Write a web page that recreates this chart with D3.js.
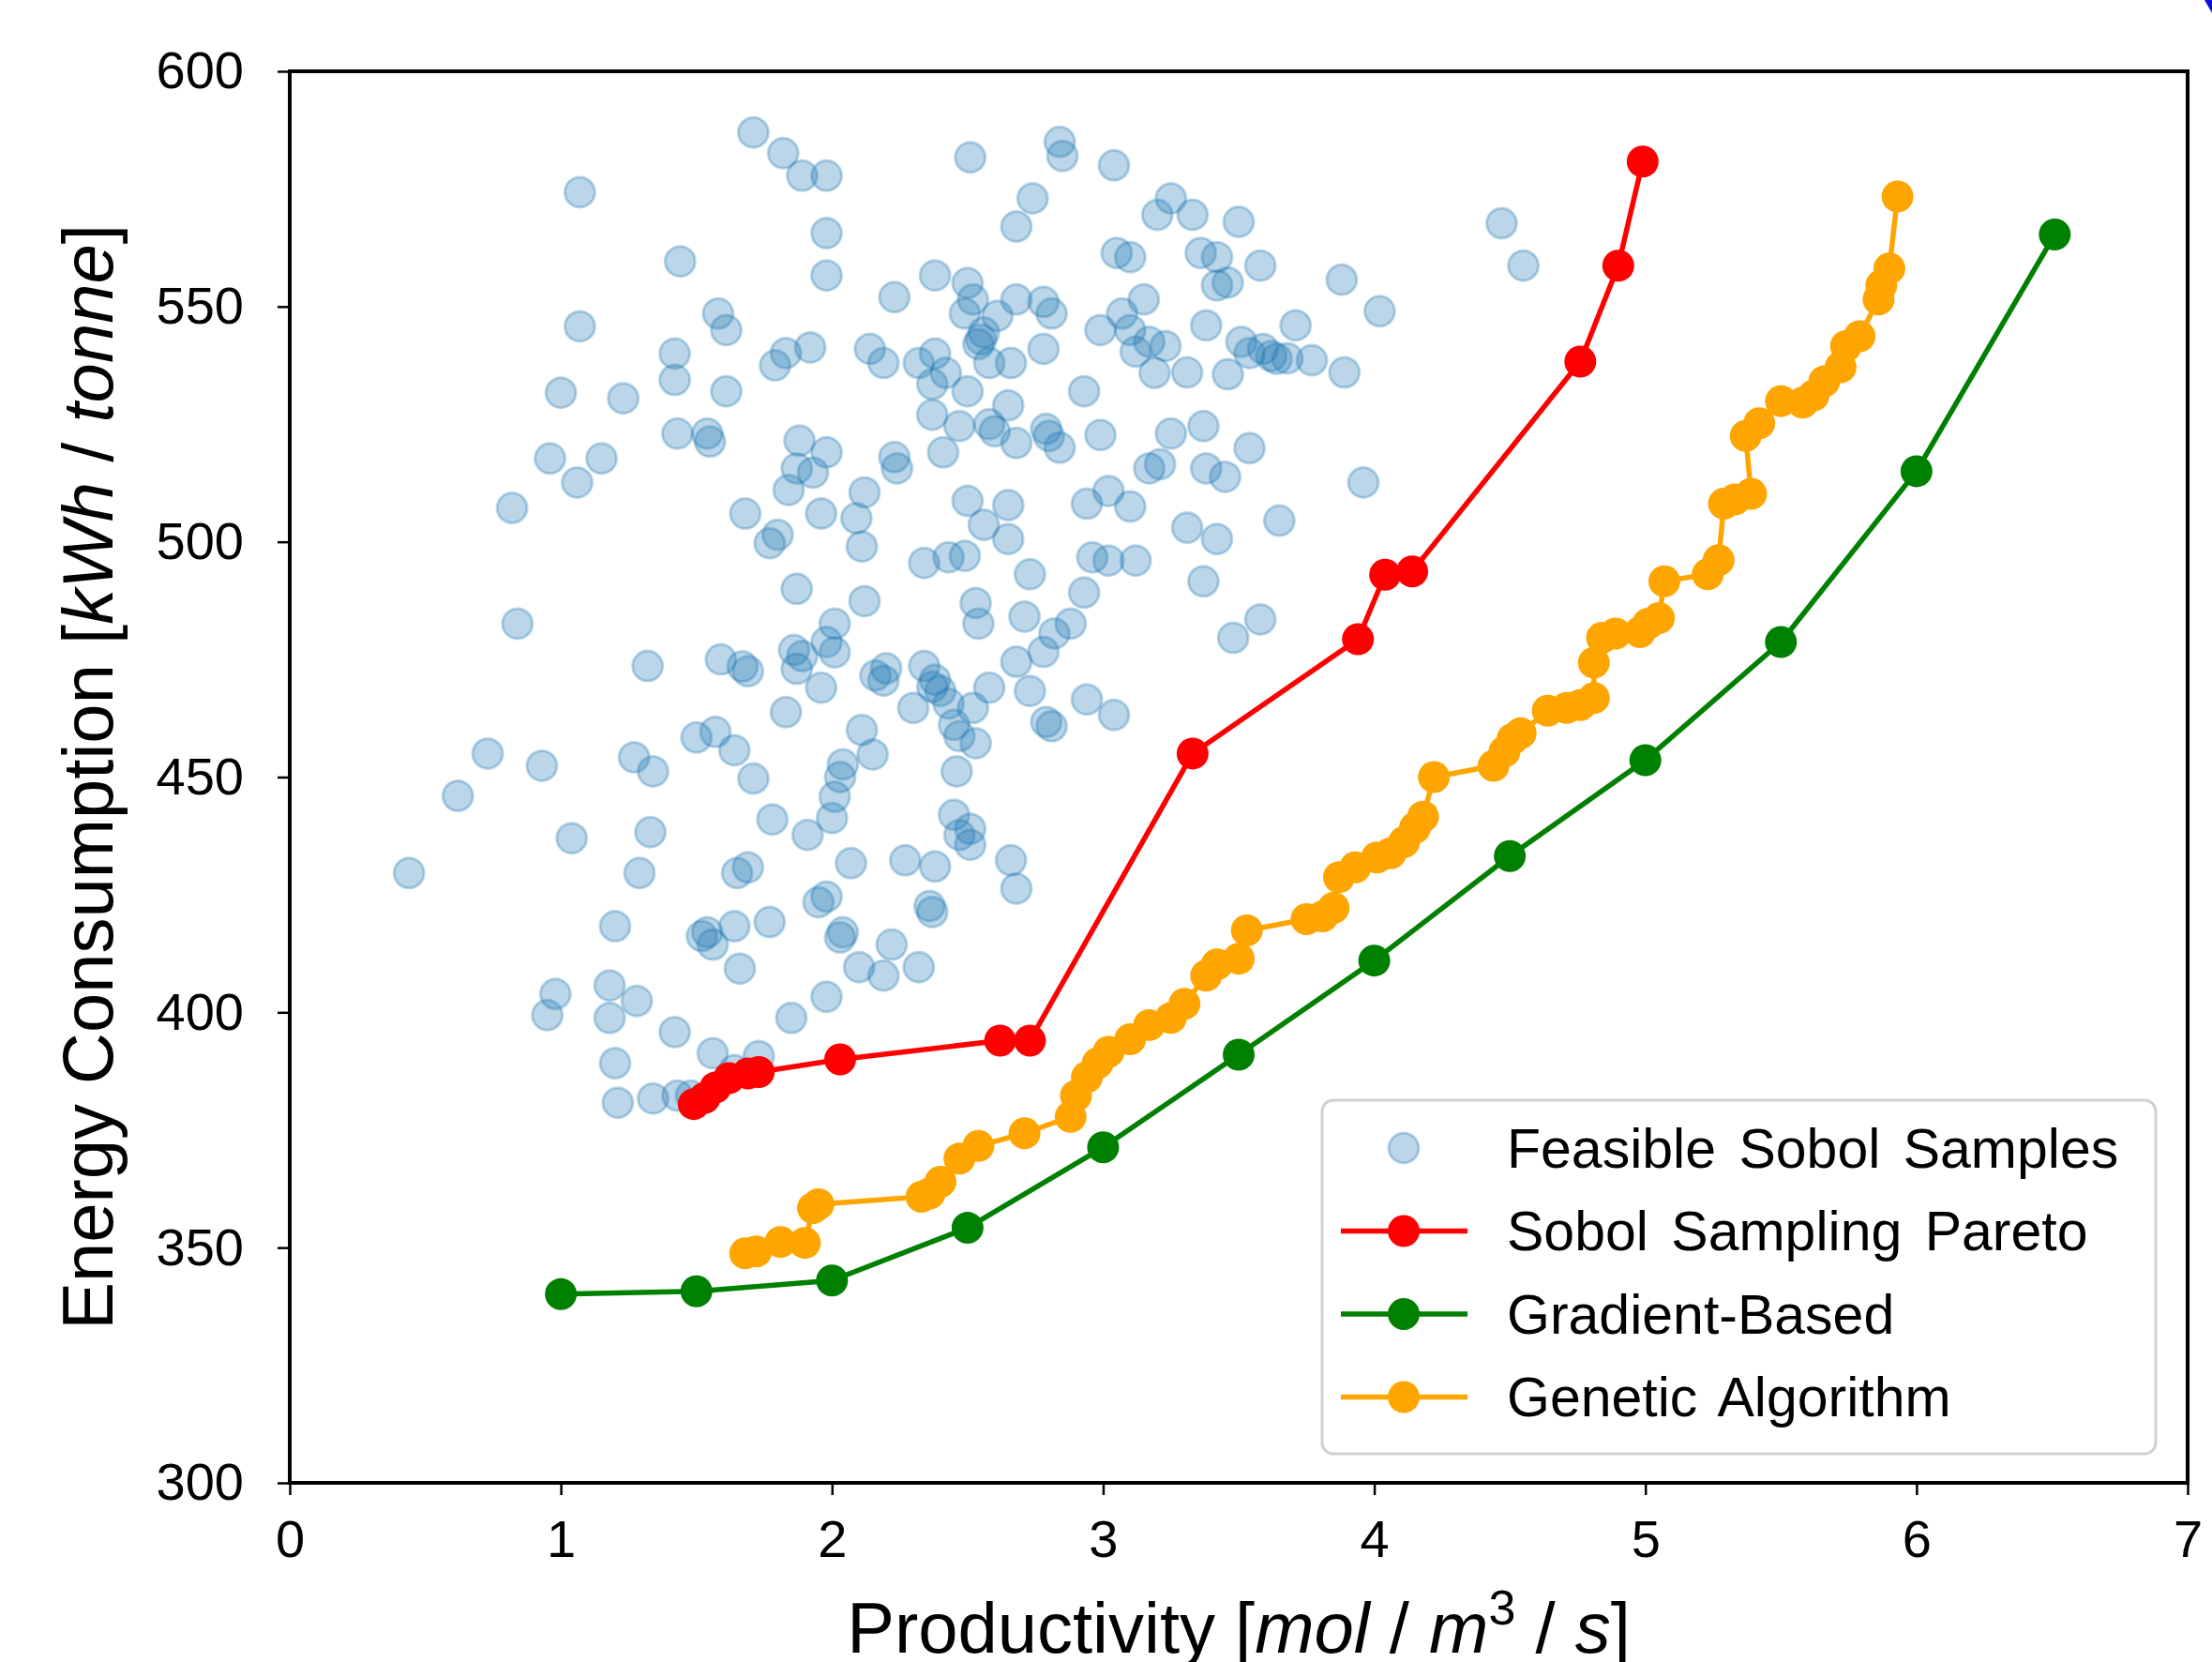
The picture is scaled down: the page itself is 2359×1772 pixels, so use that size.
<!DOCTYPE html>
<html>
<head>
<meta charset="utf-8">
<script src="https://cdn.jsdelivr.net/npm/d3@7"></script>
<style>
  body { margin: 0; background: #fff; }
  text { font-family: "Liberation Sans", Arial, Helvetica, sans-serif; fill: #000; }
</style>
</head>
<body>
<svg id="chart" width="2359" height="1772"></svg>
<script>
// feasible sobol samples [productivity, energy]
const sobolSamples = [
  [1.71,587],[1.82,582.6],[1.89,577.8],[1.98,577.8],[2.51,581.7],[2.84,585],[2.85,582],[3.04,580],
  [1.07,574.3],[1.98,565.6],[1.98,556.6],[1.44,559.6],[2.74,573],[2.68,567],[3.25,573],[3.20,569.5],
  [3.33,569.5],[3.50,568],[3.05,561.4],[3.10,560.5],[3.36,561.4],[3.42,560.5],[3.58,558.7],[3.42,554.5],
  [3.46,555.1],[3.88,555.7],[4.47,567.7],[4.55,558.7],[4.02,549],[3.71,546],[3.59,541],[3.54,540.1],
  [3.64,538.9],[3.38,546],[3.23,541.6],[3.15,551.5],[3.07,548.5],[3.10,545],[3.17,542.5],[2.99,545],
  [2.78,551],[2.81,548.5],[2.68,551.5],[2.50,555],[2.52,551.5],[2.38,556.6],[2.23,552],[2.55,543],
  [2.56,544.5],[2.54,542],[2.61,548],[2.49,548.5],[2.78,541],[2.93,532],[2.66,538],[2.58,538],
  [2.38,540],[2.32,538],[2.42,535.9],[2.37,533.5],[2.50,532],[2.58,525],[2.60,523.5],[2.65,529],
  [2.68,521],[2.79,524],[2.80,522.5],[2.84,520],[2.47,524.6],[2.37,527],[2.41,519],[2.23,518],
  [2.24,515.6],[2.14,541],[2.19,538],[1.79,537.5],[1.83,540.1],[1.92,541.3],[1.61,532],[1.58,548.5],
  [1.61,545],[1.42,534.4],[1.42,540],[1.23,530.5],[1.0,531.7],[1.07,545.8],[1.43,523],[1.54,523],
  [1.55,521.3],[0.96,517.7],[1.15,517.7],[1.06,512.6],[0.82,507.2],[1.88,521.5],[1.87,515.6],[1.93,514.7],
  [1.98,519],[1.84,511],[2.12,510.5],[2.09,505],[1.96,506],[1.68,506],[1.80,501.5],[1.77,499.7],
  [2.11,499],[2.12,487.4],[1.87,490],[2.01,482.6],[1.98,478.7],[1.86,477],[1.89,475.7],[2.01,476.5],
  [1.87,473],[1.96,469],[1.59,475],[1.67,473.5],[1.69,472.5],[1.32,473.6],[0.84,482.6],[0.73,455],
  [0.62,446],[0.93,452.4],[0.44,429.6],[1.27,454.2],[1.34,451.2],[1.33,438.3],[1.29,429.6],[1.04,437],
  [1.50,458.4],[1.57,459.6],[1.64,455.7],[1.71,449.7],[1.83,463.8],[1.78,441],[1.91,437.7],[2.0,441.3],
  [2.01,445.8],[2.04,452.7],[2.03,450],[2.15,454.8],[2.11,460],[2.07,431.7],[1.65,429.6],[1.69,430.8],
  [1.98,424.6],[1.95,423.4],[2.04,417],[2.03,415.9],[2.10,409.6],[2.19,407.8],[2.22,414.4],[2.32,409.6],
  [2.27,432.3],[2.38,431],[2.36,422.6],[2.37,421.3],[2.51,439],[2.47,437.7],[2.45,442],[2.51,435.6],
  [2.66,432.3],[2.68,426.3],[1.54,417],[1.52,416.2],[1.56,414.4],[1.64,418.3],[1.77,419.2],[1.66,409.3],
  [1.85,398.8],[1.98,403.3],[1.42,395.8],[1.28,402.4],[1.18,405.7],[1.18,398.8],[1.20,389.2],[1.21,380.8],
  [1.34,381.7],[0.95,399.4],[0.98,403.9],[1.48,382.3],[1.56,391.3],[1.64,387.7],[1.73,390.7],[1.43,382.3],
  [1.20,418.3],[2.19,470.5],[2.20,473.1],[2.16,471.6],[2.30,464.7],[2.37,469.2],[2.38,470.7],[2.40,468.3],
  [2.34,473.6],[2.43,465.6],[2.45,461.1],[2.47,458.7],[2.53,457.2],[2.46,451.2],[2.52,464.7],[2.34,495.5],
  [2.43,496.7],[2.49,497],[2.53,487],[2.54,482.6],[2.50,508.7],[2.65,507.8],[2.56,503.6],[2.65,500.6],
  [2.73,493.1],[2.71,484.1],[2.68,474.5],[2.58,469],[2.73,468.3],[2.78,476.6],[2.82,480.5],[2.88,482.6],
  [2.79,461.7],[2.81,460.8],[2.93,489.2],[2.96,496.7],[2.94,508.1],[3.02,510.8],[3.02,496],[3.12,496],
  [3.10,507.5],[2.99,522.7],[2.94,466.5],[3.04,463.2],[3.17,515.6],[3.21,516.5],[3.31,503],[3.42,500.6],
  [3.37,491.6],[3.37,524.6],[3.25,523],[3.38,515.6],[3.45,513.8],[3.54,519.9],[3.48,479.6],[3.58,483.5],
  [3.65,504.5],[3.96,512.6],[3.89,536],[3.77,538.6],[3.68,539],[3.62,539.5],[3.46,535.6],[3.31,536],
  [3.12,540.4],[3.19,535.9],[3.51,542.5]
];

const sobolPareto = [
  [1.49,380.5],[1.53,381.8],[1.57,384],[1.62,386],[1.69,387],[1.73,387.3],[2.03,390],
  [2.62,394],[2.73,394],[3.33,455],[3.94,479.3],[4.04,493],[4.14,493.7],[4.76,538.3],
  [4.90,558.7],[4.99,580.8]
];

const gradientBased = [
  [1.0,340.1],[1.5,340.7],[2.0,343],[2.5,354.2],[3.0,371.3],[3.5,391],[4.0,411],
  [4.5,433.2],[5.0,453.6],[5.5,478.7],[6.0,515],[6.51,565.3]
];

const geneticAlgorithm = [
  [1.68,348.8],[1.72,349.2],[1.81,351.2],[1.90,351],[1.93,358.4],[1.95,359.2],[2.33,360.8],
  [2.36,361.5],[2.40,364],[2.47,368.9],[2.54,371.6],[2.71,374.3],[2.88,377.8],[2.90,382.3],
  [2.94,386.2],[2.98,389.2],[3.02,391.6],[3.10,394.3],[3.17,397.3],[3.25,398.8],[3.30,401.8],
  [3.38,407.8],[3.42,410.2],[3.50,411.4],[3.53,417.4],[3.75,419.8],[3.81,420.4],[3.85,422.2],
  [3.87,428.7],[3.93,430.8],[4.01,432.9],[4.06,433.8],[4.11,436.2],[4.15,439.2],[4.18,441.6],
  [4.22,450],[4.44,452.4],[4.48,455.4],[4.51,458.1],[4.54,459.3],[4.64,464.1],[4.71,464.7],
  [4.76,465.3],[4.81,466.8],[4.81,474.3],[4.84,479.6],[4.89,480.5],[4.98,480.8],[5.01,482.6],
  [5.05,483.8],[5.07,491.6],[5.23,493.1],[5.27,496.1],[5.29,508.1],[5.33,509],[5.39,510.2],
  [5.37,522.5],[5.42,525.2],[5.50,529.9],[5.58,529.6],[5.62,531.1],[5.66,534.1],[5.72,537.1],
  [5.74,541.6],[5.79,543.7],[5.86,551.5],[5.87,554.5],[5.90,558.1],[5.93,573.4]
];

const xTicks = [0, 1, 2, 3, 4, 5, 6, 7];
const yTicks = [300, 350, 400, 450, 500, 550, 600];

const seriesNames = ["Feasible Sobol Samples", "Sobol Sampling Pareto", "Gradient-Based", "Genetic Algorithm"];
const seriesColors = ["#1f77b4", "red", "green", "orange"];

const svg = d3.select("#chart"),
  margin = { top: 76, right: 26, bottom: 191, left: 309 },
  width = +svg.attr("width") - margin.left - margin.right,
  height = +svg.attr("height") - margin.top - margin.bottom;

const x = d3.scaleLinear().domain([0, 7]).range([0, width]);
const y = d3.scaleLinear().domain([300, 600]).range([height, 0]);

const g = svg.append("g")
  .attr("transform", "translate(" + margin.left + "," + margin.top + ")");

// scatter of feasible samples
g.append("g")
  .selectAll("circle")
  .data(sobolSamples)
  .enter()
  .append("circle")
  .attr("cx", d => x(d[0]))
  .attr("cy", d => y(d[1]))
  .attr("r", 16)
  .attr("fill", "#1f77b4")
  .attr("fill-opacity", 0.3)
  .attr("stroke", "#1f77b4")
  .attr("stroke-opacity", 0.3)
  .attr("stroke-width", 3);

const line = d3.line().x(d => x(d[0])).y(d => y(d[1]));

function drawSeries(data, color) {
  g.append("path")
    .datum(data)
    .attr("fill", "none")
    .attr("stroke", color)
    .attr("stroke-width", 5.5)
    .attr("stroke-linejoin", "round")
    .attr("d", line);
  g.append("g")
    .selectAll("circle")
    .data(data)
    .enter()
    .append("circle")
    .attr("cx", d => x(d[0]))
    .attr("cy", d => y(d[1]))
    .attr("r", 17)
    .attr("fill", color);
}

drawSeries(sobolPareto, seriesColors[1]);
drawSeries(gradientBased, seriesColors[2]);
drawSeries(geneticAlgorithm, seriesColors[3]);

// axes
const xAxis = g.append("g")
  .attr("transform", `translate(0, ${height})`)
  .call(d3.axisBottom(x).tickValues(xTicks).tickFormat(d3.format("d"))
    .tickSize(13).tickSizeOuter(0).tickPadding(26));
const yAxis = g.append("g")
  .call(d3.axisLeft(y).tickValues(yTicks).tickFormat(d3.format("d"))
    .tickSize(13).tickSizeOuter(0).tickPadding(36));

[xAxis, yAxis].forEach(a => {
  a.select(".domain").remove();
  a.selectAll(".tick line").attr("stroke", "#000").attr("stroke-width", 2.5);
  a.selectAll(".tick text")
    .attr("font-size", 56)
    .attr("font-family", "Liberation Sans, Arial, sans-serif")
    .attr("fill", "#000");
});

g.append("rect")
  .attr("width", width)
  .attr("height", height)
  .attr("fill", "none")
  .attr("stroke", "#000")
  .attr("stroke-width", 4);

// axis labels
const xl = svg.append("text")
  .attr("x", margin.left + width / 2)
  .attr("y", 1762)
  .attr("text-anchor", "middle")
  .attr("font-size", 76);
xl.append("tspan").text("Productivity [");
xl.append("tspan").attr("font-style", "italic").text("mol");
xl.append("tspan").text(" / ");
xl.append("tspan").attr("font-style", "italic").text("m");
xl.append("tspan").attr("font-size", 52).attr("dy", -30).text("3");
xl.append("tspan").attr("dy", 30).text(" / ");
xl.append("tspan").attr("font-style", "italic").text("s");
xl.append("tspan").text("]");

const yl = svg.append("text")
  .attr("transform", `translate(120, ${margin.top + height / 2}) rotate(-90)`)
  .attr("text-anchor", "middle")
  .attr("font-size", 76);
yl.append("tspan").text("Energy Consumption [");
yl.append("tspan").attr("font-style", "italic").text("kWh");
yl.append("tspan").text(" / ");
yl.append("tspan").attr("font-style", "italic").text("tonne");
yl.append("tspan").text("]");

// legend
const legend = svg.append("g").attr("transform", "translate(1410, 1173)");
legend.append("rect")
  .attr("width", 889)
  .attr("height", 377)
  .attr("rx", 12)
  .attr("fill", "#fff")
  .attr("fill-opacity", 0.8)
  .attr("stroke", "#d0d0d0")
  .attr("stroke-width", 3);

seriesNames.forEach((name, i) => {
  const row = legend.append("g").attr("transform", `translate(0, ${51 + i * 88.5})`);
  if (i === 0) {
    row.append("circle")
      .attr("cx", 87).attr("r", 16)
      .attr("fill", seriesColors[0]).attr("fill-opacity", 0.3)
      .attr("stroke", seriesColors[0]).attr("stroke-opacity", 0.3).attr("stroke-width", 3);
  } else {
    row.append("line")
      .attr("x1", 20).attr("x2", 155)
      .attr("stroke", seriesColors[i]).attr("stroke-width", 5.5);
    row.append("circle").attr("cx", 87).attr("r", 17).attr("fill", seriesColors[i]);
  }
  row.append("text")
    .attr("x", 197)
    .attr("dy", "0.35em")
    .attr("font-size", 59)
    .attr("word-spacing", 8)
    .text(name);
});

// stray mark at top-right corner of the source figure
svg.append("path")
  .attr("d", "M2351,0 L2359,0 L2359,14 Z")
  .attr("fill", "#1010e0");
</script>
</body>
</html>
